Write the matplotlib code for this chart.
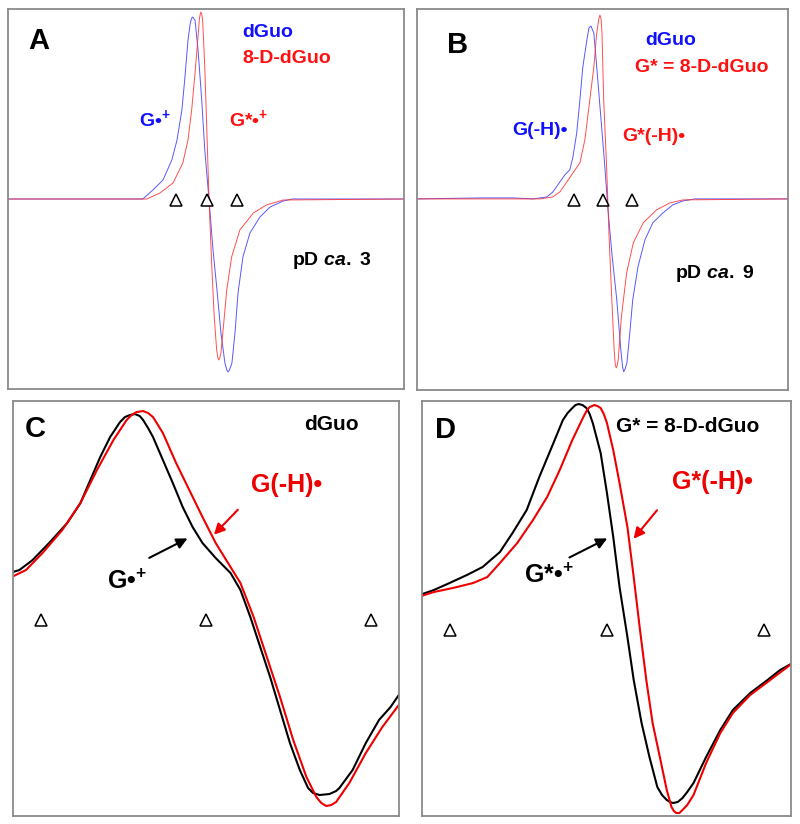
import matplotlib
matplotlib.use("Agg")
import matplotlib.pyplot as plt

plt.rcParams['font.family'] = ['Liberation Sans', 'DejaVu Sans']
plt.rcParams['font.weight'] = 'bold'
plt.rcParams['mathtext.fontset'] = 'custom'
plt.rcParams['mathtext.rm'] = 'Liberation Sans:bold'
plt.rcParams['mathtext.it'] = 'Liberation Sans:italic'
plt.rcParams['mathtext.bf'] = 'Liberation Sans:bold'

# field offset (G) / signal (arb. units)
# panel A, pD ca. 3
a_dguo_x = [-65.2, -21, -17.7, -14.4, -11.5, -9.8, -8.2, -7.2, -6.2, -5.5, -5.2, -4.8, -4.4, -3.9, -2.9,
            -1.7, -0.7, 0.7, 2.0, 3.3, 4.6, 5.9, 6.5, 6.9, 7.4, 8.2, 9.2, 10.2, 11.8, 14.1, 17.4,
            20.7, 25, 28, 64.6]
a_dguo_y = [0, 0, 9, 19, 39, 59, 89, 122, 159, 175, 179, 182, 181, 179, 149,
            99, 49, -1, -51, -91, -134, -164, -171, -173, -171, -164, -134, -94, -58, -34, -18,
            -8, -2, 0, 0]
a_d8_x = [-65.2, -19.7, -15.4, -11.1, -7.9, -6.2, -5.0, -3.9, -3.0, -2.5, -2.2, -2.0, -1.7, -1.4, -0.7,
          0, 0.7, 1.6, 2.4, 3.2, 3.6, 3.9, 4.2, 4.6, 5.4, 6.5, 8.1, 10.8, 15.2, 19.5, 25, 64.6]
a_d8_y = [0, 0, 6, 16, 36, 59, 89, 126, 159, 179, 185, 187, 185, 179, 132,
          66, -1, -68, -118, -151, -159, -161, -159, -154, -128, -91, -58, -31, -14, -6, -1, 0]

# panel B, pD ca. 9
b_dguo_x = [-64.1, -41.4, -31, -24, -19.3, -17.2, -14.8, -13.1, -11.4, -10.3, -9.0, -7.9, -6.9, -5.5, -4.8,
            -4.1, -3.1, -2.1, -0.7, 0.7, 1.7, 3.1, 4.8, 6.2, 6.8, 7.2, 7.7, 8.3, 9.3, 10.3, 12.1,
            14.5, 17.2, 20.7, 24.1, 27.6, 31.7, 63.8]
b_dguo_y = [0, 1, 1, 0, 2, 7, 17, 24, 29, 42, 66, 99, 132, 159, 171,
            173, 166, 132, 82, 32, -8, -54, -101, -151, -168, -173, -170, -164, -134, -101, -68,
            -41, -24, -14, -6, -2, 0, 0]
b_d8_x = [-64.1, -21.7, -17.2, -14.8, -12.4, -10.3, -7.9, -6.2, -4.5, -3.1, -2.1, -1.4, -1.0, -0.6, -0.3,
          0.3, 1.3, 2.1, 3.1, 3.9, 4.3, 4.6, 4.9, 5.3, 6.4, 8.2, 10.5, 13.9, 18.5, 23.1, 27.6, 63.8]
b_d8_y = [0, 0, 2, 7, 17, 26, 36, 59, 99, 132, 166, 180, 184, 180, 166,
          99, 32, -34, -101, -151, -166, -169, -167, -161, -118, -74, -44, -24, -11, -4, -1, 0]

# panel C, dGuo: cation (pD 3) vs neutral (pD 9)
c_cat_x = [-11.9, -11.3, -10.5, -9.5, -8.4, -7.6, -7.0, -6.4, -5.8, -5.2, -4.9, -4.6, -4.3, -4.0, -3.8,
           -3.5, -3.2, -2.6, -2.0, -1.4, -0.8, -0.2, 0.6, 1.5, 2.1, 2.7, 3.3, 3.9, 4.5, 5.1,
           5.7, 6.2, 6.5, 6.9, 7.5, 7.9, 8.1, 8.9, 9.7, 10.5, 11.2, 11.7]
c_cat_y = [-10, -7, 3, 20, 40, 60, 83, 106, 126, 141, 146, 148, 149, 147, 143,
           135, 126, 103, 80, 56, 36, 20, 5, -10, -27, -54, -84, -114, -147, -180,
           -207, -225, -230, -232, -231, -228, -225, -207, -180, -157, -144, -132]
c_neu_x = [-11.9, -10.9, -9.9, -8.7, -7.6, -6.6, -5.6, -4.8, -4.5, -4.2, -3.8, -3.5, -3.2, -2.6, -1.8,
           -1.0, -0.2, 0.6, 1.5, 2.1, 2.9, 3.7, 4.5, 5.3, 6.1, 6.7, 7.0, 7.3, 7.6, 7.9,
           8.7, 9.7, 10.7, 11.7]
c_neu_y = [-15, -7, 10, 33, 60, 93, 123, 143, 148, 151, 152, 150, 146, 130, 100,
           73, 46, 20, -4, -20, -54, -94, -134, -177, -214, -234, -240, -243, -242, -239,
           -220, -190, -164, -142]

# panel D, 8-D-dGuo
d_cat_x = [-11.9, -11.0, -10.0, -8.9, -7.9, -6.8, -6.0, -5.1, -4.3, -3.4, -2.8, -2.5, -2.2, -2.0, -1.8,
           -1.55, -1.3, -1.1, -0.9, -0.4, 0, 0.4, 0.8, 1.3, 1.7, 2.2, 2.7, 3.2, 3.5, 3.8,
           4.0, 4.2, 4.5, 4.8, 5.1, 5.5, 6.3, 7.2, 8.0, 9.1, 10.2, 11.0, 11.8]
d_cat_y = [-32, -27, -20, -12, -4, 11, 30, 53, 86, 120, 143, 150, 155, 158, 159,
           158, 155, 149, 140, 110, 70, 26, -24, -74, -117, -160, -194, -224, -232, -237,
           -239, -240, -239, -235, -229, -220, -194, -167, -147, -130, -117, -107, -100]
d_neu_x = [-12.0, -11.0, -9.8, -8.5, -7.6, -6.8, -5.7, -4.7, -3.8, -3.0, -2.2, -1.5, -1.3, -1.1, -0.8,
           -0.6, -0.4, -0.2, 0, 0.4, 0.8, 1.3, 1.7, 2.1, 2.5, 2.9, 3.4, 3.8, 4.1, 4.25,
           4.4, 4.6, 4.8, 5.1, 5.5, 6.3, 7.2, 8.0, 9.1, 10.2, 11.8]
d_neu_y = [-34, -29, -25, -20, -14, 0, 20, 43, 66, 93, 123, 146, 152, 156, 158,
           157, 155, 149, 140, 113, 80, 36, -14, -67, -117, -160, -197, -227, -244, -248,
           -250, -250, -247, -242, -232, -200, -170, -150, -132, -119, -100]

tri_x = [-10, 0, 10]

fig = plt.figure(figsize=(8, 8.24), dpi=100)
axA = fig.add_axes([0.010, 0.528, 0.495, 0.461])
axB = fig.add_axes([0.521, 0.527, 0.464, 0.462])
axC = fig.add_axes([0.016, 0.0097, 0.4825, 0.5036])
axD = fig.add_axes([0.5275, 0.0097, 0.461, 0.5036])

for ax in (axA, axB, axC, axD):
    ax.set_xticks([])
    ax.set_yticks([])
    for s in ax.spines.values():
        s.set_color('#8a8a8a')
        s.set_linewidth(1.3)

blue = '#3a3aff'
red = '#ff3030'
tri = dict(marker='^', ls='none', mfc='white', mec='black', ms=8, mew=1.1, zorder=5)

# A
axA.plot(a_dguo_x, a_dguo_y, color=blue, lw=0.7, alpha=0.85)
axA.plot(a_d8_x, a_d8_y, color=red, lw=0.7, alpha=0.85)
axA.plot(tri_x, [-1] * 3, **tri)
axA.set_xlim(-65.2, 64.6)
axA.set_ylim(-190, 190)
axA.text(0.05, 0.895, 'A', transform=axA.transAxes, fontsize=21)
axA.text(0.591, 0.926, 'dGuo', transform=axA.transAxes, fontsize=14, color='#1010ff')
axA.text(0.591, 0.858, '8-D-dGuo', transform=axA.transAxes, fontsize=14, color='#ff1010')
axA.text(0.331, 0.692, 'G•$^{+}$', transform=axA.transAxes, fontsize=14, color='#1010ff')
axA.text(0.558, 0.692, 'G*•$^{+}$', transform=axA.transAxes, fontsize=14, color='#ff1010')
axA.text(0.717, 0.326, 'pD $\\mathit{ca.}$ 3', transform=axA.transAxes, fontsize=14)

# B
axB.plot(b_dguo_x, b_dguo_y, color=blue, lw=0.7, alpha=0.85)
axB.plot(b_d8_x, b_d8_y, color=red, lw=0.7, alpha=0.85)
axB.plot(tri_x, [-1] * 3, **tri)
axB.set_xlim(-64.1, 63.8)
axB.set_ylim(-191, 190)
axB.text(0.081, 0.885, 'B', transform=axB.transAxes, fontsize=21)
axB.text(0.615, 0.906, 'dGuo', transform=axB.transAxes, fontsize=14, color='#1010ff')
axB.text(0.588, 0.835, 'G* = 8-D-dGuo', transform=axB.transAxes, fontsize=14, color='#ff1010')
axB.text(0.256, 0.669, 'G(-H)•', transform=axB.transAxes, fontsize=14, color='#1010ff')
axB.text(0.553, 0.654, 'G*(-H)•', transform=axB.transAxes, fontsize=14, color='#ff1010')
axB.text(0.695, 0.294, 'pD $\\mathit{ca.}$ 9', transform=axB.transAxes, fontsize=14)

# C
axC.plot(c_cat_x, c_cat_y, color='black', lw=1.5)
axC.plot(c_neu_x, c_neu_y, color='#ee0000', lw=1.5)
axC.plot(tri_x, [-57] * 3, **tri)
axC.set_xlim(-11.7, 11.7)
axC.set_ylim(-253, 162)
axC.text(0.031, 0.913, 'C', transform=axC.transAxes, fontsize=21)
axC.text(0.756, 0.930, 'dGuo', transform=axC.transAxes, fontsize=15)
axC.text(0.617, 0.781, 'G(-H)•', transform=axC.transAxes, fontsize=18, color='#ee0000')
axC.text(0.244, 0.547, 'G•$^{+}$', transform=axC.transAxes, fontsize=18)
axC.annotate('', xy=(0.516, 0.673), xytext=(0.588, 0.743), xycoords='axes fraction',
             arrowprops=dict(arrowstyle='-|>', color='#ee0000', lw=1.5, mutation_scale=16))
axC.annotate('', xy=(0.459, 0.672), xytext=(0.347, 0.619), xycoords='axes fraction',
             arrowprops=dict(arrowstyle='-|>', color='black', lw=1.5, mutation_scale=16))

# D
axD.plot(d_cat_x, d_cat_y, color='black', lw=1.5)
axD.plot(d_neu_x, d_neu_y, color='#ee0000', lw=1.5)
axD.plot(tri_x, [-67] * 3, **tri)
axD.set_xlim(-11.75, 11.68)
axD.set_ylim(-253, 162)
axD.text(0.035, 0.911, 'D', transform=axD.transAxes, fontsize=21)
axD.text(0.526, 0.925, 'G* = 8-D-dGuo', transform=axD.transAxes, fontsize=15)
axD.text(0.678, 0.788, 'G*(-H)•', transform=axD.transAxes, fontsize=18, color='#ee0000')
axD.text(0.276, 0.561, 'G*•$^{+}$', transform=axD.transAxes, fontsize=18)
axD.annotate('', xy=(0.569, 0.663), xytext=(0.642, 0.742), xycoords='axes fraction',
             arrowprops=dict(arrowstyle='-|>', color='#ee0000', lw=1.5, mutation_scale=16))
axD.annotate('', xy=(0.509, 0.672), xytext=(0.393, 0.620), xycoords='axes fraction',
             arrowprops=dict(arrowstyle='-|>', color='black', lw=1.5, mutation_scale=16))

fig.savefig('out.png', dpi=100)
